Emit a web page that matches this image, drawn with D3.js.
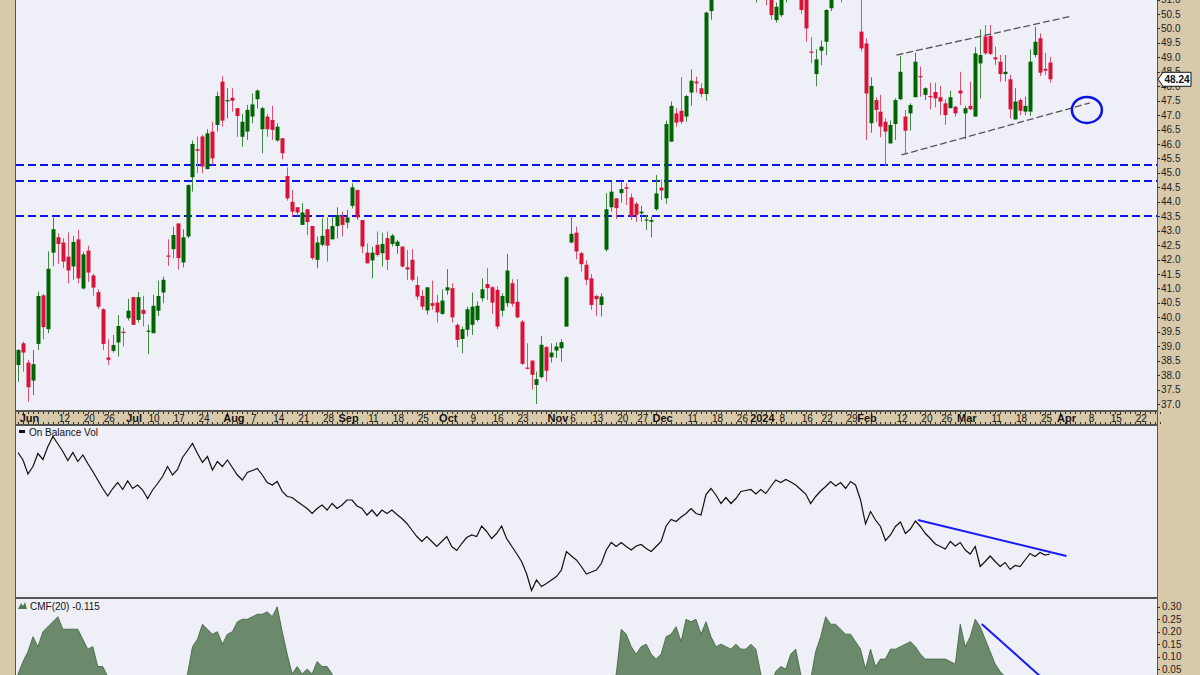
<!DOCTYPE html>
<html><head><meta charset="utf-8">
<script src="https://cdn.jsdelivr.net/npm/d3@7"></script>
<style>
body{margin:0;background:#d8c9ab;}
svg{display:block;font-family:"Liberation Sans",Arial,sans-serif;}
</style></head><body>
<svg id="c" width="1200" height="675"></svg>
<script>
// ---------------- DATA ----------------
const firstDay = "2023-06-01";
const lastDay = "2024-04-30";
const holidays = ["2023-06-19","2023-07-04","2023-09-04","2023-11-23","2023-12-25","2024-01-01","2024-01-15","2024-02-19","2024-03-29"];

const opens = [38.35,39.1,38.43,37.81,39.08,40.76,39.59,42.24,42.77,42.59,42.1,41.76,42.70,41.0,42.31,41.45,40.87,40.28,38.61,38.84,
39.13,39.5,39.97,40.70,39.91,40.26,39.5,39.45,40.23,40.86,42.14,42.36,43.25,41.9,42.8,44.85,45.82,46.26,45.13,46.43,
46.66,48.16,47.5,47.6,47.24,46.25,46.43,46.95,47.55,46.51,46.95,46.83,46.12,46.2,44.89,44.0,43.81,43.2,43.74,43.16,
41.99,42.51,43.05,42.7,43.16,43.51,43.28,43.86,44.41,43.37,42.24,41.97,42.51,42.22,42.74,42.54,42.47,42.45,41.73,41.99,
41.12,40.74,40.24,40.49,40.51,40.12,40.93,41.01,39.74,39.25,39.57,39.74,39.91,40.66,41.15,41.04,40.95,40.23,40.49,41.18,
40.54,39.85,38.26,38.5,37.66,37.93,38.97,38.62,38.85,38.93,39.68,42.59,42.93,42.22,41.82,41.35,40.74,40.43,42.34,43.81,
44.12,44.3,44.5,44.15,43.93,43.6,43.35,43.31,43.74,44.49,44.12,46.08,47.06,47.15,46.95,47.78,48.16,47.93,47.73,50.6,
51.3,51.6,51.5,52.0,51.9,52.1,52.3,51.8,51.3,51.4,51.2,51.2,50.29,50.46,51.1,51.4,51.7,51.3,51.2,49.2,
48.42,49.23,49.54,50.7,51.4,51.6,51.2,51.5,51.8,49.89,49.48,46.72,47.52,47.12,46.77,46.02,46.69,47.55,46.95,47.06,
47.62,48.35,47.7,47.66,47.8,47.62,47.41,47.24,47.29,47.85,47.06,47.32,46.95,48.79,49.72,49.74,49.0,48.85,48.42,48.24,
46.85,47.52,47.12,47.12,49.08,49.66,48.6,48.82];
const highs = [38.9,39.16,38.52,38.87,40.89,40.81,42.28,43.45,42.91,42.74,42.94,42.82,43.03,42.27,42.48,41.50,40.97,40.32,39.24,39.39,
40.08,39.65,40.64,40.70,40.88,40.74,39.74,40.78,41.27,41.41,42.7,43.14,43.25,43.05,44.6,46.12,46.26,46.31,46.51,46.77,
47.81,48.35,47.93,47.93,47.24,47.04,47.35,47.75,47.89,47.29,47.04,47.32,46.72,46.2,45.19,44.41,43.81,43.95,43.74,43.16,
42.8,43.43,43.46,43.49,43.81,43.66,43.72,44.64,44.41,43.37,42.56,42.45,42.97,42.93,42.97,42.89,42.68,42.45,42.33,42.36,
41.41,40.95,41.04,41.27,40.78,40.97,41.67,41.18,39.8,39.68,40.37,40.86,40.55,41.35,41.7,41.07,41.07,40.83,42.2,41.32,
41.32,39.91,39.1,38.53,38.12,39.36,39.01,39.1,39.13,39.24,41.43,43.49,43.14,42.28,41.97,41.5,40.78,40.83,44.3,44.7,
44.12,44.7,44.64,44.29,44.0,43.86,43.54,43.48,44.93,44.78,46.81,47.47,47.24,48.31,47.7,48.58,48.33,48.1,50.58,51.4,
51.8,52.0,52.2,52.4,52.3,52.5,52.6,52.0,51.6,51.7,51.5,51.4,50.9,51.3,51.6,51.9,52.0,51.5,51.4,49.7,
49.28,49.58,50.66,51.6,51.8,51.9,51.7,52.0,52.1,51.2,49.66,48.31,47.62,47.7,46.89,46.81,47.58,49.05,47.18,47.41,
49.16,48.68,47.96,48.12,48.12,48.01,47.55,47.85,47.32,48.5,47.32,48.16,49.35,49.97,50.12,50.12,49.37,49.08,49.08,48.39,
47.93,47.58,47.64,49.28,50.06,49.83,49.16,49.02];
const lows = [37.77,38.12,37.08,37.31,38.87,39.24,39.45,41.78,41.85,41.70,41.18,41.3,41.18,40.97,41.23,40.75,40.29,38.87,38.35,38.78,
38.64,38.99,39.89,39.74,39.82,39.68,38.73,39.45,40.05,40.49,41.78,42.05,41.66,41.73,42.74,44.35,44.99,44.99,45.13,45.28,
46.43,46.6,46.89,47.12,46.25,45.91,46.14,46.72,47.23,45.68,46.25,46.14,46.08,45.47,44.04,43.49,43.5,43.2,42.85,41.99,
41.7,42.45,41.93,42.7,42.74,42.8,43.08,43.77,43.37,42.22,41.87,41.35,42.1,41.76,41.64,42.45,42.2,41.73,41.3,41.24,
40.6,40.26,40.1,40.26,39.82,40.09,40.78,39.82,38.97,38.76,39.34,39.39,39.85,40.55,40.6,40.12,39.59,40.03,40.37,40.37,
39.97,38.35,38.2,37.49,37.0,37.89,37.78,38.44,38.59,38.47,39.68,42.56,42.01,41.58,41.12,40.26,40.05,40.03,42.28,43.66,
43.4,43.97,43.89,43.37,43.31,43.31,43.03,42.77,43.69,44.06,43.93,46.08,46.6,46.69,46.77,47.32,47.78,47.62,47.5,50.3,
51.0,51.3,51.3,51.7,51.5,51.8,51.6,51.0,50.9,51.0,50.8,50.3,50.2,50.4,50.9,51.1,51.1,50.5,49.54,48.8,
48.0,48.73,49.08,50.6,51.1,50.9,51.0,51.2,51.1,49.2,46.14,46.39,46.77,46.23,45.24,46.02,46.14,47.52,45.65,46.46,
47.62,47.64,47.52,47.2,47.27,47.0,46.66,47.24,46.95,47.35,46.16,47.18,46.95,47.58,49.08,49.08,48.73,48.16,48.16,46.89,
46.85,47.0,47.0,46.97,49.0,48.35,48.39,48.12];
const closes = [38.87,38.78,37.58,38.38,40.74,39.66,41.68,43.05,42.54,41.93,41.62,42.61,41.35,42.18,41.55,41.03,40.37,39.08,38.53,39.04,
39.70,39.48,40.23,39.74,40.70,40.12,39.54,40.40,40.74,41.3,42.1,42.85,42.05,42.77,44.58,46.0,45.77,45.22,46.37,45.5,
47.66,46.81,47.52,47.5,46.97,46.77,47.18,47.37,47.85,47.24,46.51,46.49,46.6,45.68,44.12,43.66,43.63,43.63,43.3,42.05,
42.59,42.82,42.48,43.16,43.54,43.2,43.46,44.5,43.46,42.45,41.87,42.24,42.16,42.54,41.99,42.83,42.62,41.76,41.66,41.3,
40.72,40.37,41.04,40.4,40.17,40.58,41.04,40.0,39.22,39.59,40.28,40.37,40.4,40.97,41.01,40.51,39.68,40.74,41.62,40.47,
40.0,38.39,38.22,38.01,37.86,39.05,38.15,38.78,38.99,39.14,41.39,42.89,42.28,41.84,41.3,40.43,40.63,40.72,43.74,44.35,
43.78,44.44,44.45,43.49,43.55,43.66,43.39,43.37,44.29,44.39,46.69,47.32,46.74,46.77,47.66,48.19,48.1,47.73,50.55,51.2,
51.6,51.5,52.0,51.9,52.1,52.3,51.8,51.3,51.4,51.2,51.1,50.46,50.75,51.1,51.4,51.7,51.3,50.64,50.0,49.16,
48.93,49.37,50.64,51.4,51.6,51.2,51.5,51.8,51.3,49.31,47.75,48.01,47.18,46.6,46.43,46.66,47.52,48.5,46.46,47.35,
48.85,48.31,47.93,47.62,47.58,47.47,47.0,47.62,47.06,47.75,47.24,47.2,49.14,49.08,49.14,49.12,48.93,48.42,48.5,47.2,
47.47,47.15,47.32,48.85,49.54,48.47,48.54,48.24];

// On Balance Volume (millions, relative)
const obv = [27.9,26.4,23.6,25.1,27.7,26.5,29.1,31.1,29.6,28.1,26.3,27.9,26.1,27.4,25.7,24.1,22.4,20.7,19.2,20.7,
21.9,20.5,22.2,20.7,21.4,20.4,18.7,20.4,21.7,23.1,25.1,23.4,24.5,26.9,28.3,29.7,27.7,25.9,27.1,24.4,
26.1,25.1,26.4,24.9,23.4,22.4,23.9,24.3,24.7,23.4,21.9,21.4,22.1,20.1,19.1,18.9,18.1,17.4,16.7,15.7,
16.7,17.4,16.4,17.7,16.7,17.4,18.4,18.4,17.2,16.7,15.4,16.4,15.2,16.4,15.7,16.4,15.5,14.7,13.7,12.4,
11.1,10.1,11.1,10.1,9.1,10.1,11.1,9.1,8.3,9.7,10.9,11.4,11.1,13.2,12.1,10.7,11.7,13.2,10.7,9.2,
7.7,6.1,3.7,0.3,2.4,1.1,1.7,2.4,3.1,4.4,8.1,7.2,6.4,5.1,3.6,4.0,4.4,5.7,8.4,9.9,
9.1,9.9,9.1,8.4,9.2,9.5,8.7,8.1,9.1,10.1,13.2,14.5,14.1,15.0,15.7,16.7,15.7,15.4,19.5,20.7,
19.4,17.7,18.9,17.7,18.7,20.1,20.3,20.5,19.6,20.5,19.7,21.1,22.4,21.9,22.5,22.0,21.4,20.5,19.6,17.7,
19.1,20.2,21.1,22.1,21.2,21.9,20.7,22.1,21.4,18.4,13.6,16.1,14.4,13.1,10.3,11.4,13.1,14.0,11.7,12.6,
14.2,13.1,11.7,10.7,9.6,9.1,8.6,10.1,9.2,9.9,8.4,7.6,9.1,5.1,6.1,7.2,6.1,5.1,5.9,4.5,
5.3,5.1,6.4,7.7,7.1,7.9,7.4,7.6];

// Chaikin Money Flow (20)
const cmf = [0.03,0.08,0.12,0.18,0.14,0.20,0.22,0.24,0.26,0.21,0.21,0.21,0.21,0.17,0.13,0.14,0.06,0.06,0.02,-0.02,
-0.05,-0.08,-0.10,-0.12,-0.10,-0.08,-0.10,-0.12,-0.10,-0.08,-0.06,-0.05,-0.03,-0.01,0.03,0.14,0.17,0.23,0.21,0.19,
0.20,0.15,0.19,0.20,0.24,0.25,0.25,0.26,0.27,0.27,0.28,0.26,0.30,0.20,0.11,0.03,0.06,0.03,0.05,0.03,
0.08,0.06,0.06,0.03,-0.02,-0.05,-0.08,-0.10,-0.12,-0.14,-0.15,-0.16,-0.18,-0.17,-0.15,-0.14,-0.16,-0.18,-0.20,-0.19,
-0.17,-0.15,-0.16,-0.18,-0.20,-0.22,-0.21,-0.19,-0.17,-0.15,-0.13,-0.12,-0.14,-0.16,-0.18,-0.20,-0.22,-0.24,-0.23,-0.21,
-0.19,-0.17,-0.15,-0.14,-0.16,-0.18,-0.17,-0.15,-0.13,-0.11,-0.10,-0.09,-0.08,-0.07,-0.06,-0.05,-0.04,-0.03,-0.02,-0.01,
0.03,0.21,0.19,0.14,0.11,0.14,0.15,0.11,0.09,0.11,0.18,0.19,0.22,0.16,0.25,0.24,0.25,0.19,0.24,0.18,
0.14,0.15,0.14,0.13,0.15,0.13,0.13,0.15,0.13,0.03,-0.02,-0.01,0.04,0.06,0.05,0.11,0.13,0.03,-0.02,0.01,
0.12,0.18,0.26,0.23,0.23,0.21,0.19,0.19,0.16,0.13,0.05,0.13,0.06,0.09,0.09,0.13,0.13,0.14,0.15,0.16,
0.14,0.11,0.09,0.09,0.09,0.09,0.09,0.08,0.07,0.23,0.14,0.18,0.25,0.22,0.17,0.12,0.07,0.04,0.02,-0.01,
-0.03,-0.05,-0.07,-0.08,-0.09,-0.10,-0.11,-0.115];

const tickDates = ["2023-06-01","2023-06-12","2023-06-20","2023-06-26","2023-07-03","2023-07-10","2023-07-17","2023-07-24","2023-08-01","2023-08-07","2023-08-14","2023-08-21","2023-08-28","2023-09-01","2023-09-11","2023-09-18","2023-09-25","2023-10-02","2023-10-09","2023-10-16","2023-10-23","2023-11-01","2023-11-06","2023-11-13","2023-11-20","2023-11-27","2023-12-01","2023-12-11","2023-12-18","2023-12-26","2024-01-02","2024-01-08","2024-01-16","2024-01-22","2024-01-29","2024-02-01","2024-02-12","2024-02-20","2024-02-26","2024-03-01","2024-03-11","2024-03-18","2024-03-25","2024-04-01","2024-04-08","2024-04-15","2024-04-22"];
const tickLabels = ["Jun","12","20","26","Jul","10","17","24","Aug","7","14","21","28","Sep","11","18","25","Oct","9","16","23","Nov","6","13","20","27","Dec","11","18","26","2024","8","16","22","29","Feb","12","20","26","Mar","11","18","25","Apr","8","15","22"];
const boldLabels = ["Jun","Jul","Aug","Sep","Oct","Nov","Dec","2024","Feb","Mar","Apr"];

const priceTicks = [37.0,37.5,38.0,38.5,39.0,39.5,40.0,40.5,41.0,41.5,42.0,42.5,43.0,43.5,44.0,44.5,45.0,45.5,46.0,46.5,47.0,47.5,48.0,48.5,49.0,49.5,50.0,50.5,51.0];
const cmfTicks = [0.05,0.10,0.15,0.20,0.25,0.30];
const supportLevels = [45.27, 44.72, 43.51];
// annotation trendlines: [trading-day index, value]
const wedgeUpper = [[176.2, 49.08],[211.4, 50.43]];
const wedgeLower = [[177.2, 45.62],[215.0, 47.42]];
const obvTrend = [[180.5, 14.4],[210.3, 7.2]];
const cmfTrend = [[193.3, 0.231],[209.0, -0.05]];
const circleAt = [214.4, 47.18];

// ---------------- CALENDAR ----------------
const parse = d3.timeParse("%Y-%m-%d"), fmt = d3.timeFormat("%Y-%m-%d");
const hol = new Set(holidays);
const days = d3.timeDay.range(parse(firstDay), d3.timeDay.offset(parse(lastDay),1))
  .filter(d => d.getDay()!==0 && d.getDay()!==6 && !hol.has(fmt(d))).map(fmt);
const dayIndex = new Map(days.map((d,i)=>[d,i]));

// ---------------- LAYOUT ----------------
const W=1200, H=675, L=16, R=1157;
const svg = d3.select("#c");
const tan = "#d8c9ab", plotBg = "#eff0f7", border = "#555";

svg.append("rect").attr("width",W).attr("height",H).attr("fill",tan);

const x = d3.scaleLinear().domain([0, 207]).range([18, 1050]);
const y = d3.scaleLinear().domain([37, 50.5]).range([404, 14]);
const yObv = d3.scaleLinear().domain([0, 30]).range([592, 442]);
const yCmf = d3.scaleLinear().domain([0, 0.30]).range([681.5, 606.8]);

const P = {top:-20, bottom:411}, A={top:411,bottom:425}, O={top:425,bottom:598}, C={top:598,bottom:700};

const defs = svg.append("defs");
function clip(id, t, b){ defs.append("clipPath").attr("id",id).append("rect").attr("x",L).attr("y",t).attr("width",R-L).attr("height",b-t); }
clip("cp",P.top,P.bottom); clip("co",O.top,O.bottom); clip("cc",C.top,C.bottom);

// panel backgrounds
[[P.top,P.bottom],[O.top,O.bottom],[C.top,C.bottom]].forEach(([t,b])=>{
  svg.append("rect").attr("x",L).attr("y",t).attr("width",R-L).attr("height",b-t).attr("fill",plotBg);
});

// ---------------- PRICE PANEL ----------------
const gp = svg.append("g").attr("clip-path","url(#cp)");
gp.selectAll(".sup").data(supportLevels).join("line")
  .attr("x1",L).attr("x2",R).attr("y1",d=>y(d)).attr("y2",d=>y(d))
  .attr("stroke","#0a14e6").attr("stroke-width",2).attr("stroke-dasharray","8,4");

const idx = d3.range(opens.length);
const up = i => closes[i] >= opens[i];
const colUp = "#006400", colDn = "#d81239";
const cx = i => Math.round(x(i));
gp.selectAll(".wick").data(idx).join("rect")
  .attr("x",i=>cx(i)).attr("width",1)
  .attr("y",i=>y(highs[i])).attr("height",i=>Math.max(1,y(lows[i])-y(highs[i])))
  .attr("fill",i=>up(i)?"#3f8a3f":"#e0506e");
gp.selectAll(".body").data(idx).join("rect")
  .attr("x",i=>cx(i)-1.5).attr("width",4)
  .attr("y",i=>y(Math.max(opens[i],closes[i])))
  .attr("height",i=>Math.max(1.2,Math.abs(y(opens[i])-y(closes[i]))))
  .attr("fill",i=>up(i)?colUp:colDn);

const tl = d3.line().x(d=>x(d[0])).y(d=>y(d[1]));
[wedgeUpper,wedgeLower].forEach(seg=>{
  gp.append("path").attr("d",tl(seg)).attr("fill","none").attr("stroke","#555")
    .attr("stroke-width",1.3).attr("stroke-dasharray","7,3");
});
gp.append("ellipse").attr("cx",x(circleAt[0])).attr("cy",y(circleAt[1])).attr("rx",15).attr("ry",13)
  .attr("fill","none").attr("stroke","#0a14e6").attr("stroke-width",2.5);

// ---------------- X AXIS BAND ----------------
svg.append("rect").attr("x",L).attr("y",A.top).attr("width",R-L).attr("height",A.bottom-A.top).attr("fill",tan);
const ga = svg.append("g");
ga.selectAll(".dt").data(days).join("rect")
  .attr("x",d=>Math.round(x(dayIndex.get(d)))).attr("y",A.top+1).attr("width",1).attr("height",2).attr("fill","#333");
ga.selectAll(".db").data(days).join("rect")
  .attr("x",d=>Math.round(x(dayIndex.get(d)))).attr("y",A.bottom-3).attr("width",1).attr("height",2).attr("fill","#333");
ga.selectAll(".tk").data(tickDates).join("text")
  .attr("x",(d)=>x(dayIndex.get(d))+11.5).attr("y",A.bottom-3)
  .attr("text-anchor","middle").attr("font-size",(d,i)=>boldLabels.includes(tickLabels[i])?"11px":"10px")
  .attr("font-weight",(d,i)=>boldLabels.includes(tickLabels[i])?"bold":"normal")
  .attr("fill","#111").text((d,i)=>tickLabels[i]);

// ---------------- OBV PANEL ----------------
const go = svg.append("g").attr("clip-path","url(#co)");
go.append("path").datum(idx).attr("d",d3.line().x(i=>x(i)).y(i=>yObv(obv[i])))
  .attr("fill","none").attr("stroke","#111").attr("stroke-width",1.2);
go.append("path").attr("d",d3.line().x(d=>x(d[0])).y(d=>yObv(d[1]))(obvTrend))
  .attr("fill","none").attr("stroke","#1a1aff").attr("stroke-width",2);
svg.append("rect").attr("x",19).attr("y",430).attr("width",6).attr("height",3).attr("fill","#111");
svg.append("text").attr("x",29).attr("y",436).attr("font-size","10px").attr("fill","#111").text("On Balance Vol");

// ---------------- CMF PANEL ----------------
const gc = svg.append("g").attr("clip-path","url(#cc)");
gc.append("path").datum(idx).attr("d",d3.area().x(i=>x(i)).y0(yCmf(0)).y1(i=>yCmf(cmf[i])))
  .attr("fill","#6b8a6b").attr("stroke","#3e5e3e").attr("stroke-width",0.8);
gc.append("path").attr("d",d3.line().x(d=>x(d[0])).y(d=>yCmf(d[1]))(cmfTrend))
  .attr("fill","none").attr("stroke","#1a1aff").attr("stroke-width",2);
svg.append("path").attr("d","M18,609 L21,603 L23,606 L25,602 L27,609 Z").attr("fill","#4f7a4f");
svg.append("text").attr("x",30).attr("y",610).attr("font-size","10px").attr("fill","#111").text("CMF(20) -0.115");

// ---------------- BORDERS ----------------
[[P.top,P.bottom],[A.top,A.bottom],[O.top,O.bottom],[C.top,C.bottom]].forEach(([t,b])=>{
  svg.append("rect").attr("x",L-0.5).attr("y",t+0.5).attr("width",R-L+1).attr("height",b-t-1)
    .attr("fill","none").attr("stroke",border).attr("stroke-width",1);
});

// ---------------- RIGHT AXES ----------------
const gr = svg.append("g");
gr.selectAll(".pt").data(priceTicks).join("line")
  .attr("x1",R).attr("x2",R+3).attr("y1",d=>Math.round(y(d))+0.5).attr("y2",d=>Math.round(y(d))+0.5).attr("stroke","#333");
gr.selectAll(".pl").data(priceTicks).join("text")
  .attr("x",R+4).attr("y",d=>y(d)+3.5).attr("font-size","10px").attr("fill","#222")
  .text(d=>d3.format(".1f")(d));
gr.selectAll(".ct").data(cmfTicks).join("line")
  .attr("x1",R).attr("x2",R+3).attr("y1",d=>Math.round(yCmf(d))+0.5).attr("y2",d=>Math.round(yCmf(d))+0.5).attr("stroke","#333");
gr.selectAll(".cl").data(cmfTicks).join("text")
  .attr("x",R+5).attr("y",d=>yCmf(d)+3.5).attr("font-size","10px").attr("fill","#222")
  .text(d=>d3.format(".2f")(d));

// last price marker
const lastC = closes[closes.length-1], ly = y(lastC);
gr.append("path").attr("d",`M${R+1},${ly} L${R+6},${ly-7} L${R+34},${ly-7} L${R+34},${ly+7} L${R+6},${ly+7} Z`)
  .attr("fill","#fff").attr("stroke","#111").attr("stroke-width",1);
gr.append("text").attr("x",R+20).attr("y",ly+4).attr("text-anchor","middle").attr("font-size","10px")
  .attr("font-weight","bold").attr("fill","#111").text(d3.format(".2f")(lastC));
</script>
</body></html>
